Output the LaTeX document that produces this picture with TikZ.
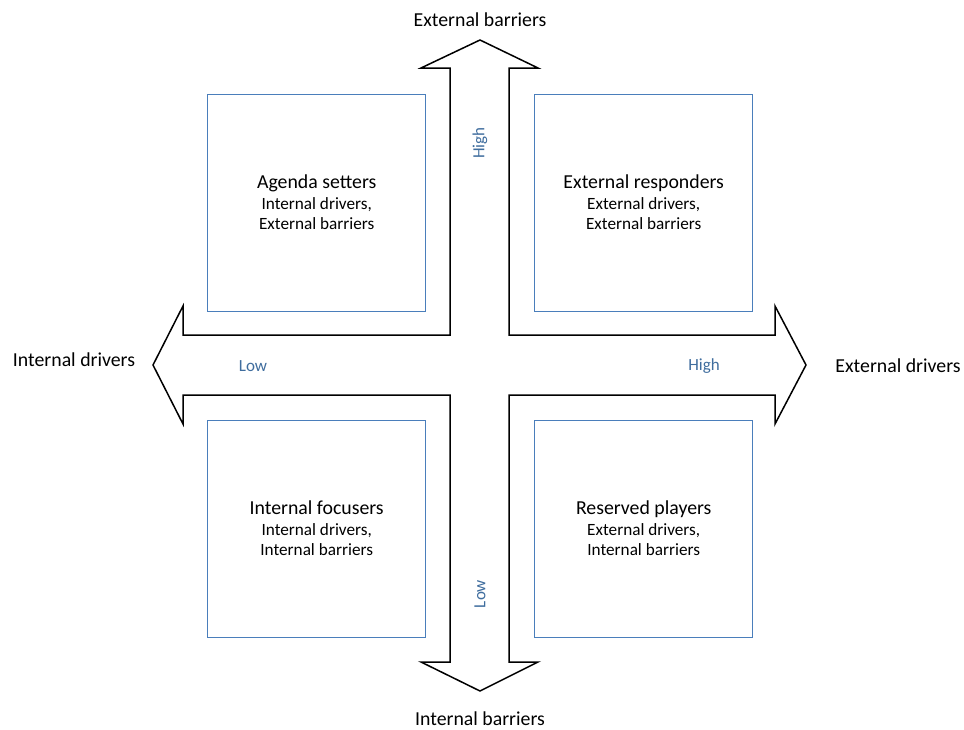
\documentclass[tikz,border=0pt]{standalone}
\usepackage{fontspec}
\setmainfont{Carlito}
\definecolor{boxblue}{HTML}{4A7EBB}
\definecolor{lblblue}{HTML}{3F6D9E}
\begin{document}
\begin{tikzpicture}[x=1pt,y=-1pt,
  quad/.style={draw=boxblue,line width=1.4pt,minimum width=218pt,minimum height=217pt,anchor=north west,inner sep=0pt},
  quadtext/.style={align=center,font=\fontsize{17.2}{20.5}\selectfont},
  axislabel/.style={font=\fontsize{19.8}{22}\selectfont},
  scalelabel/.style={text=lblblue,font=\fontsize{17}{20}\selectfont},
  cross/.style={draw=black,line width=1.5pt,line join=miter,fill=white}]
\useasboundingbox (0,0) rectangle (964,729);

% four-way arrow outline
\draw[cross] (480,40) -- (538,68) -- (509,68) -- (509,335) -- (775,335) -- (775,306)
  -- (806,365) -- (775,424) -- (775,395) -- (509,395) -- (509,662) -- (538,662)
  -- (480,691) -- (421,662) -- (450,662) -- (450,395) -- (183,395) -- (183,424)
  -- (153,365) -- (183,306) -- (183,335) -- (450,335) -- (450,68) -- (421,68) -- cycle;

% quadrants
\node[quad] (tl) at (207,94) {};
\node[quad] (tr) at (534,94) {};
\node[quad] (bl) at (207,420) {};
\node[quad] (br) at (534,420) {};

\node[quadtext] (tlt) at ([yshift=1pt]tl.center) {{\fontsize{19.8}{22}\selectfont Agenda setters}\\Internal drivers,\\External barriers};
\node[quadtext] (trt) at ([yshift=1pt]tr.center) {{\fontsize{19.8}{22}\selectfont External responders}\\External drivers,\\External barriers};
\node[quadtext] (blt) at ([yshift=1pt]bl.center) {{\fontsize{19.8}{22}\selectfont Internal focusers}\\Internal drivers,\\Internal barriers};
\node[quadtext] (brt) at ([yshift=1pt]br.center) {{\fontsize{19.8}{22}\selectfont Reserved players}\\External drivers,\\Internal barriers};

% axis ends
\node[axislabel] (top) at (480,20) {External barriers};
\node[axislabel] (bot) at (480,719) {Internal barriers};
\node[axislabel] (lft) at (74,360) {Internal drivers};
\node[axislabel] (rgt) at (898,366) {External drivers};

% scale marks
\node[scalelabel] (lowx) at (253,366) {Low};
\node[scalelabel] (highx) at (704,366) {High};
\node[scalelabel,rotate=90] (highy) at (480,143) {High};
\node[scalelabel,rotate=90] (lowy) at (480,594) {Low};
\end{tikzpicture}
\end{document}
